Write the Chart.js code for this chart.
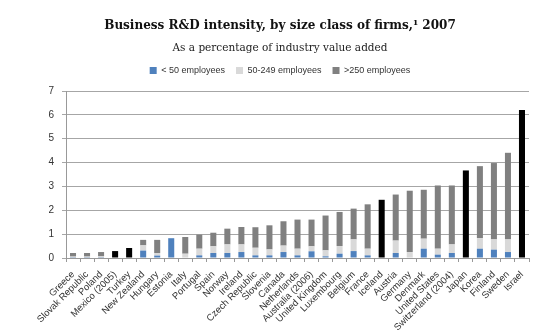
<!DOCTYPE html>
<html>
<head>
<meta charset="utf-8">
<script src="https://cdn.jsdelivr.net/npm/chart.js@4/dist/chart.umd.min.js"></script>
<style>
  html, body { margin: 0; padding: 0; background: #fff; }
  #wrap { width: 560px; height: 336px; position: relative; }
</style>
</head>
<body>
<div id="wrap"><canvas id="rdChart"></canvas></div>
<script>
// --- Data ---
const countries = ['Greece', 'Slovak Republic', 'Poland', 'Mexico (2005)', 'Turkey', 'New Zealand',
  'Hungary', 'Estonia', 'Italy', 'Portugal', 'Spain', 'Norway', 'Ireland', 'Czech Republic',
  'Slovenia', 'Canada', 'Netherlands', 'Australia (2006)', 'United Kingdom', 'Luxembourg',
  'Belgium', 'France', 'Iceland', 'Austria', 'Germany', 'Denmark', 'United States',
  'Switzerland (2004)', 'Japan', 'Korea', 'Finland', 'Sweden', 'Israel'];

// size class shares (null where only the total is known)
const small = [0.01, 0.01, 0.01, null, null, 0.31, 0.10, 0.83, 0.02, 0.11, 0.21, 0.21, 0.25, 0.11,
  0.11, 0.25, 0.11, 0.28, 0.07, 0.18, 0.29, 0.11, null, 0.21, 0.02, 0.39, 0.14, 0.21, null, 0.39,
  0.35, 0.25, null];
const medium = [0.05, 0.05, 0.06, null, null, 0.22, 0.11, 0.00, 0.16, 0.28, 0.28, 0.36, 0.32, 0.32,
  0.25, 0.27, 0.28, 0.21, 0.25, 0.32, 0.49, 0.28, null, 0.52, 0.23, 0.42, 0.25, 0.36, null, 0.44,
  0.43, 0.53, null];
const large = [0.15, 0.15, 0.18, null, null, 0.23, 0.55, 0.00, 0.70, 0.59, 0.57, 0.66, 0.73, 0.86,
  1.01, 1.02, 1.22, 1.12, 1.46, 1.43, 1.29, 1.86, null, 1.93, 2.57, 2.05, 2.65, 2.47, null, 3.02,
  3.20, 3.63, null];
// countries with total only
const totalOnly = [null, null, null, 0.29, 0.42, null, null, null, null, null, null, null, null, null,
  null, null, null, null, null, null, null, null, 2.44, null, null, null, null, null, 3.67, null,
  null, null, 6.2];

const yTicks = [0, 1, 2, 3, 4, 5, 6, 7];

const sans = "'Liberation Sans', Arial, sans-serif";
const serif = "'DejaVu Serif', Georgia, serif";

const common = { barPercentage: 0.43, categoryPercentage: 1.0 };

// extra gap under the legend row
const legendGap = {
  id: 'legendGap',
  beforeUpdate(chart) {
    const legend = chart.legend;
    if (legend && !legend._gapPatched) {
      const fit = legend.fit;
      legend.fit = function () {
        fit.call(this);
        this.height += 6;
      };
      legend._gapPatched = true;
    }
  }
};

new Chart(document.getElementById('rdChart'), {
  type: 'bar',
  data: {
    labels: countries,
    datasets: [
      Object.assign({ label: '< 50 employees', data: small, backgroundColor: '#4f81bd' }, common),
      Object.assign({ label: '50-249 employees', data: medium, backgroundColor: '#d9d9d9' }, common),
      Object.assign({ label: '>250 employees', data: large, backgroundColor: '#808080' }, common),
      Object.assign({ label: 'Total', data: totalOnly, backgroundColor: '#000000' }, common)
    ]
  },
  plugins: [legendGap],
  options: {
    responsive: true,
    maintainAspectRatio: false,
    animation: false,
    layout: { padding: { left: 31, right: 31, top: 4, bottom: 2 } },
    plugins: {
      title: {
        display: true,
        text: 'Business R&D intensity, by size class of firms,\u00b9 2007',
        color: '#111',
        font: { family: serif, size: 12, weight: 'bold' },
        padding: { top: 15, bottom: 9 }
      },
      subtitle: {
        display: true,
        text: 'As a percentage of industry value added',
        color: '#222',
        font: { family: serif, size: 10.5 },
        padding: { bottom: 0 }
      },
      legend: {
        position: 'top',
        labels: {
          boxWidth: 7,
          boxHeight: 7,
          padding: 11,
          color: '#333',
          font: { family: sans, size: 9 },
          filter: item => item.text !== 'Total'
        }
      },
      tooltip: { enabled: false }
    },
    scales: {
      x: {
        stacked: true,
        afterFit: scale => { scale.height = 76; },
        grid: { display: true, drawOnChartArea: false, color: '#999', tickLength: 4, offset: true },
        border: { color: '#999' },
        ticks: {
          autoSkip: false,
          minRotation: 45,
          maxRotation: 45,
          color: '#333',
          padding: 7,
          font: { family: sans, size: 9.5 }
        }
      },
      y: {
        stacked: true,
        min: yTicks[0],
        max: yTicks[yTicks.length - 1],
        afterBuildTicks: scale => { scale.ticks = yTicks.map(v => ({ value: v })); },
        afterFit: scale => { scale.width = 35; },
        grid: { color: '#a6a6a6', tickLength: 4 },
        border: { color: '#999' },
        ticks: {
          color: '#333',
          padding: 8,
          font: { family: sans, size: 10 }
        }
      }
    }
  }
});
</script>
</body>
</html>
